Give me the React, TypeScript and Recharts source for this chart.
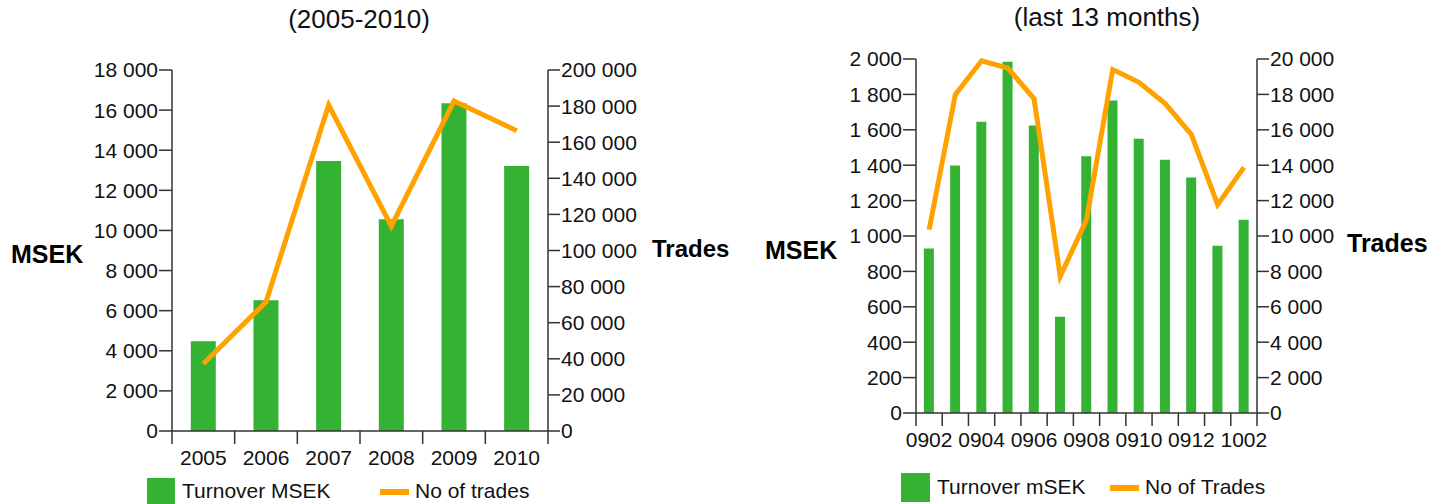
import React from 'react';
import { ComposedChart, Bar, Line, XAxis, YAxis, Legend, Label } from 'recharts';

const FONT = '"Liberation Sans", Arial, Helvetica, sans-serif';
const GREEN = '#34B233';
const ORANGE = '#FFA200';
const AXIS = '#333333';
const TEXT = '#111111';

// ---- Chart 1: (2005-2010)
const yearCategories = ['2005', '2006', '2007', '2008', '2009', '2010'];
const yearTurnover = [4475, 6520, 13460, 10560, 16340, 13210];
const yearTrades = [37300, 71500, 180600, 113500, 182800, 166400];
const yearTurnoverTicks = [0, 2000, 4000, 6000, 8000, 10000, 12000, 14000, 16000, 18000];
const yearTradesTicks = [0, 20000, 40000, 60000, 80000, 100000, 120000, 140000, 160000, 180000, 200000];

// ---- Chart 2: (last 13 months)
const monthCategories = ['0902', '0903', '0904', '0905', '0906', '0907', '0908', '0909', '0910', '0911', '0912', '1001', '1002'];
const monthTurnover = [930, 1399, 1646, 1985, 1625, 544, 1450, 1766, 1550, 1431, 1330, 945, 1092];
const monthTrades = [10360, 17990, 19900, 19490, 17760, 7720, 10920, 19400, 18680, 17480, 15730, 11770, 13880];
const monthTurnoverTicks = [0, 200, 400, 600, 800, 1000, 1200, 1400, 1600, 1800, 2000];
const monthTradesTicks = [0, 2000, 4000, 6000, 8000, 10000, 12000, 14000, 16000, 18000, 20000];

const yearData = yearCategories.map((c, i) => ({ cat: c, turnover: yearTurnover[i], trades: yearTrades[i] }));
const monthData = monthCategories.map((c, i) => ({ cat: c, turnover: monthTurnover[i], trades: monthTrades[i] }));

const fmt = (n: number) => String(n).replace(/\B(?=(\d{3})+(?!\d))/g, ' ');

function makeXTick(band: number, count: number, every: number) {
  return (props: any) => {
    const { x, y, payload, index } = props;
    const i = typeof index === 'number' ? index : payload.index;
    return (
      <g>
        <line x1={x - band / 2} x2={x - band / 2} y1={y} y2={y + 13} stroke={AXIS} strokeWidth={1.5} />
        {i === count - 1 && (
          <line x1={x + band / 2} x2={x + band / 2} y1={y} y2={y + 13} stroke={AXIS} strokeWidth={1.5} />
        )}
        {i % every === 0 && (
          <text x={x} y={y + 34} textAnchor="middle" fontSize={21} fontFamily={FONT} fill={TEXT}>
            {payload.value}
          </text>
        )}
      </g>
    );
  };
}

function makeLegend(secondOffset: number, squareSize: number) {
  return (props: any) => {
    const payload = (props.payload || []) as any[];
    return (
      <div style={{ position: 'relative', height: squareSize, fontFamily: FONT, fontSize: 21, color: TEXT, whiteSpace: 'nowrap' }}>
        {payload.map((e, idx) => {
          const isLine = e.type === 'line';
          return (
            <div
              key={idx}
              style={{
                position: 'absolute',
                left: isLine ? secondOffset : 0,
                top: 0,
                height: squareSize,
                display: 'flex',
                alignItems: 'center',
              }}
            >
              {isLine ? (
                <span style={{ display: 'inline-block', width: 29, height: 6, background: e.color, marginRight: 6 }} />
              ) : (
                <span style={{ display: 'inline-block', width: squareSize, height: squareSize, background: e.color, marginRight: 7 }} />
              )}
              <span style={{ lineHeight: '21px', marginTop: -3 }}>{e.value}</span>
            </div>
          );
        })}
      </div>
    );
  };
}

const axisLine = { stroke: AXIS, strokeWidth: 1.5 };
const tickStyle = { fill: TEXT, fontSize: 21, fontFamily: FONT };

export default function App() {
  const c1W = 740, c1H = 504, c1Top = 70, c1LeftW = 172, c1RightW = 192, c1XH = 73;
  const band1 = (c1W - c1LeftW - c1RightW) / yearCategories.length;
  const c2W = 708, c2H = 504, c2Top = 59, c2LeftW = 176, c2RightW = 191, c2XH = 91;
  const band2 = (c2W - c2LeftW - c2RightW) / monthCategories.length;

  return (
    <div style={{ position: 'absolute', left: 0, top: 0, width: 1448, height: 504, background: '#fff', overflow: 'hidden' }}>
      <div style={{ position: 'absolute', left: 0, top: 6, width: 718, textAlign: 'center', fontFamily: FONT, fontSize: 26, lineHeight: '26px', color: TEXT }}>
        (2005-2010)
      </div>
      <div style={{ position: 'absolute', left: 907, top: 4, width: 400, textAlign: 'center', fontFamily: FONT, fontSize: 26, lineHeight: '26px', color: TEXT }}>
        (last 13 months)
      </div>

      <div style={{ position: 'absolute', left: 0, top: 0 }}>
        <ComposedChart width={c1W} height={c1H} data={yearData} margin={{ top: c1Top, right: 0, bottom: 0, left: 0 }} barCategoryGap="30%">
          <XAxis
            dataKey="cat"
            height={c1XH}
            interval={0}
            tickSize={0}
            tickMargin={0}
            tickLine={false}
            axisLine={axisLine}
            tick={makeXTick(band1, yearCategories.length, 1)}
          />
          <YAxis
            yAxisId="left"
            width={c1LeftW}
            domain={[0, 18000]}
            ticks={yearTurnoverTicks}
            interval={0}
            tickFormatter={fmt}
            tickSize={13}
            tickMargin={1}
            axisLine={axisLine}
            tickLine={axisLine}
            tick={tickStyle}
          >
            <Label value="MSEK" position="insideLeft" offset={11} dy={4} fontSize={25} fontWeight="bold" fill="#000" fontFamily={FONT} />
          </YAxis>
          <YAxis
            yAxisId="right"
            orientation="right"
            width={c1RightW}
            domain={[0, 200000]}
            ticks={yearTradesTicks}
            interval={0}
            tickFormatter={fmt}
            tickSize={12}
            tickMargin={1}
            axisLine={axisLine}
            tickLine={axisLine}
            tick={tickStyle}
          >
            <Label value="Trades" position="insideLeft" offset={104} dy={-2} fontSize={24} fontWeight="bold" fill="#000" fontFamily={FONT} />
          </YAxis>
          <Bar yAxisId="left" dataKey="turnover" name="Turnover MSEK" fill={GREEN} isAnimationActive={false} />
          <Line yAxisId="right" dataKey="trades" name="No of trades" type="linear" stroke={ORANGE} strokeWidth={5} dot={false} activeDot={false} isAnimationActive={false} />
          <Legend
            layout="horizontal"
            verticalAlign="middle"
            align="center"
            wrapperStyle={{ left: 147, top: 478, width: 420, height: 28 }}
            content={makeLegend(233, 28)}
          />
        </ComposedChart>
      </div>

      <div style={{ position: 'absolute', left: 740, top: 0 }}>
        <ComposedChart width={c2W} height={c2H} data={monthData} margin={{ top: c2Top, right: 0, bottom: 0, left: 0 }} barCategoryGap="30%">
          <XAxis
            dataKey="cat"
            height={c2XH}
            interval={0}
            tickSize={0}
            tickMargin={0}
            tickLine={false}
            axisLine={axisLine}
            tick={makeXTick(band2, monthCategories.length, 2)}
          />
          <YAxis
            yAxisId="left"
            width={c2LeftW}
            domain={[0, 2000]}
            ticks={monthTurnoverTicks}
            interval={0}
            tickFormatter={fmt}
            tickSize={13}
            tickMargin={1}
            axisLine={axisLine}
            tickLine={axisLine}
            tick={tickStyle}
          >
            <Label value="MSEK" position="insideLeft" offset={25} dy={14} fontSize={25} fontWeight="bold" fill="#000" fontFamily={FONT} />
          </YAxis>
          <YAxis
            yAxisId="right"
            orientation="right"
            width={c2RightW}
            domain={[0, 20000]}
            ticks={monthTradesTicks}
            interval={0}
            tickFormatter={fmt}
            tickSize={12}
            tickMargin={1}
            axisLine={axisLine}
            tickLine={axisLine}
            tick={tickStyle}
          >
            <Label value="Trades" position="insideLeft" offset={90} dy={7} fontSize={25} fontWeight="bold" fill="#000" fontFamily={FONT} />
          </YAxis>
          <Bar yAxisId="left" dataKey="turnover" name="Turnover mSEK" fill={GREEN} isAnimationActive={false} />
          <Line yAxisId="right" dataKey="trades" name="No of Trades" type="linear" stroke={ORANGE} strokeWidth={5} dot={false} activeDot={false} isAnimationActive={false} />
          <Legend
            layout="horizontal"
            verticalAlign="middle"
            align="center"
            wrapperStyle={{ left: 161, top: 473, width: 420, height: 29 }}
            content={makeLegend(209, 29)}
          />
        </ComposedChart>
      </div>
    </div>
  );
}
